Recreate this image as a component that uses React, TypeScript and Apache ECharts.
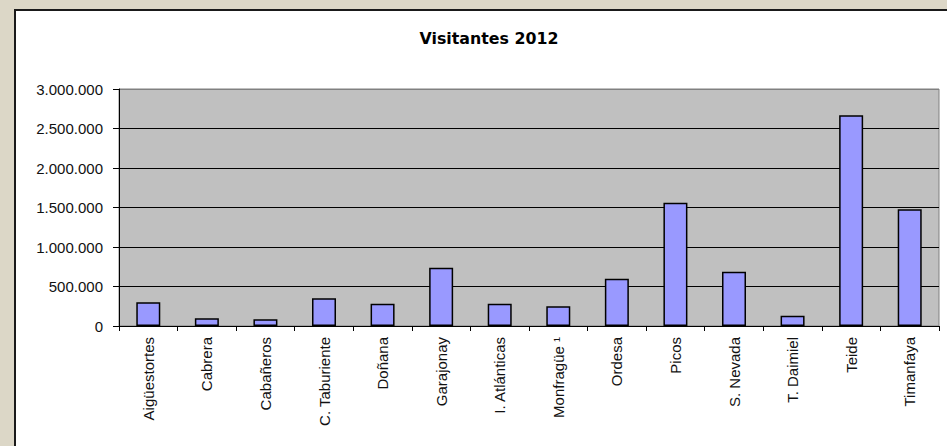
import React, { useEffect, useRef } from "react";
import * as echarts from "echarts";

const categories = [
  "Aigüestortes",
  "Cabrera",
  "Cabañeros",
  "C. Taburiente",
  "Doñana",
  "Garajonay",
  "I. Atlánticas",
  "Monfragüe ¹",
  "Ordesa",
  "Picos",
  "S. Nevada",
  "T. Daimiel",
  "Teide",
  "Timanfaya",
];

const visitors = [
  300000, 97000, 85000, 350000, 282000, 738000, 282000, 249000, 599000,
  1561000, 687000, 130000, 2667000, 1477000,
];

const titleText = "Visitantes 2012";

const fmt = (v: number) =>
  String(Math.round(v)).replace(/\B(?=(\d{3})+(?!\d))/g, ".");

export default function App() {
  const ref = useRef<HTMLDivElement>(null);
  useEffect(() => {
    if (!ref.current) return;
    const chart = echarts.init(ref.current, null, { renderer: "svg" });
    chart.setOption({
      animation: false,
      backgroundColor: "#dcd7c7",
      graphic: [
        {
          type: "rect",
          z: -10,
          shape: { x: 15, y: 10, width: 945, height: 450 },
          style: { fill: "#ffffff", stroke: "#1a1a1a", lineWidth: 2 },
        },
      ],
      title: {
        text: titleText,
        left: 484,
        top: 25,
        textAlign: "center",
        textStyle: {
          fontFamily: "DejaVu Sans",
          fontWeight: "bold",
          fontSize: 15.8,
          color: "#000",
        },
      },
      grid: {
        left: 119,
        top: 89,
        right: 8,
        bottom: 120,
        show: true,
        backgroundColor: "#c0c0c0",
        borderColor: "#808080",
        borderWidth: 1,
      },
      xAxis: {
        type: "category",
        data: categories,
        boundaryGap: true,
        axisLine: { lineStyle: { color: "#000", width: 1 } },
        axisTick: { show: true, length: 5, lineStyle: { color: "#000" } },
        axisLabel: {
          rotate: 90,
          interval: 0,
          margin: 11,
          color: "#111",
          fontFamily: "Liberation Sans",
          fontSize: 15,
        },
        splitLine: { show: false },
      },
      yAxis: {
        type: "value",
        min: 0,
        max: 3000000,
        interval: 500000,
        axisLine: { show: true, lineStyle: { color: "#000", width: 1 } },
        axisTick: { show: true, length: 6, lineStyle: { color: "#000" } },
        axisLabel: {
          margin: 16,
          color: "#111",
          fontFamily: "Liberation Sans",
          fontSize: 15,
          formatter: (v: number) => fmt(v),
        },
        splitLine: {
          show: true,
          lineStyle: {
            color: ["#000", "#000", "#000", "#000", "#000", "#000", "#808080"],
            width: 1,
          },
        },
      },
      series: [
        {
          type: "bar",
          data: visitors,
          barWidth: 24,
          itemStyle: {
            color: "#9999ff",
            borderColor: "#000",
            borderWidth: 1.5,
          },
        },
      ],
    });
    return () => chart.dispose();
  }, []);
  return (
    <div
      ref={ref}
      style={{ position: "fixed", left: 0, top: 0, width: 947, height: 446 }}
    />
  );
}
